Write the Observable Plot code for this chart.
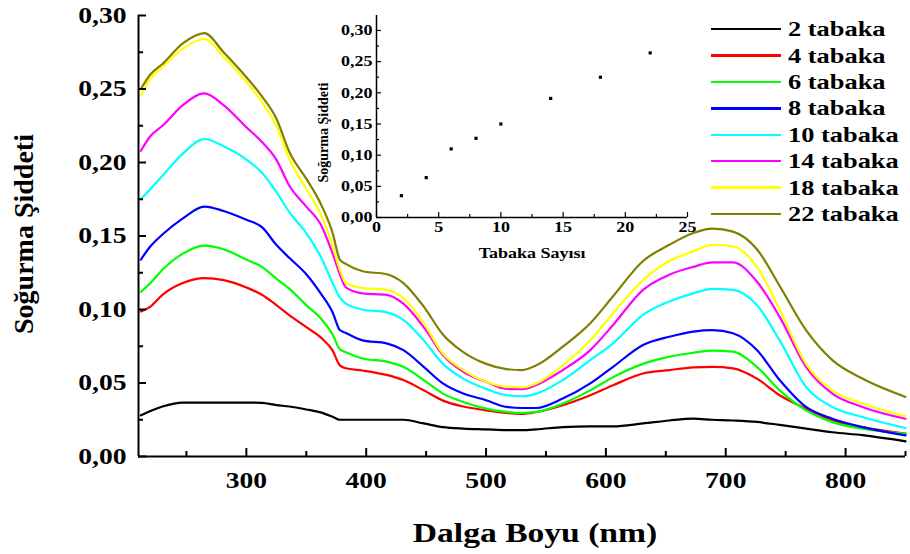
<!DOCTYPE html>
<html><head><meta charset="utf-8">
<script src="https://cdn.jsdelivr.net/npm/d3@7"></script>
<script src="https://cdn.jsdelivr.net/npm/@observablehq/plot@0.6"></script>
<style>
html,body{margin:0;padding:0;background:#fff;}
#wrap{position:relative;width:910px;height:554px;font-family:"Liberation Serif","Times New Roman",serif;font-weight:bold;color:#000;overflow:hidden;}
#wrap svg{position:absolute;}
#legend{position:absolute;left:711px;top:16px;}
.row{height:26.4px;display:flex;align-items:center;}
.sw{width:70px;height:2.5px;margin-right:7px;flex:none;}
.lab{font-size:22px;line-height:22px;transform:scaleX(1.2);transform-origin:left center;white-space:nowrap;}
</style></head><body><div id="wrap"><div id="legend"></div></div>
<script>
// ---- data ----
const wavelengths = [212,220,230,247,265,281,300,313,325,336,350,362,372,378,383,397,417,431,448,464,481,500,517,530,542,564,587,606,631,653,673,689,706,726,745,767,789,814,850];
const s2  = [0.028,0.031,0.034,0.0367,0.0367,0.0367,0.0367,0.0365,0.035,0.034,0.032,0.030,0.027,0.025,0.025,0.025,0.025,0.025,0.0225,0.020,0.019,0.0185,0.018,0.018,0.0185,0.020,0.0205,0.0205,0.0225,0.0245,0.0257,0.025,0.0245,0.0235,0.0215,0.019,0.0165,0.0145,0.0103];
const s4  = [0.0986,0.102,0.110,0.118,0.1214,0.120,0.115,0.110,0.103,0.096,0.088,0.081,0.072,0.062,0.060,0.0585,0.0555,0.052,0.045,0.038,0.034,0.0314,0.0296,0.029,0.0303,0.0349,0.0417,0.0485,0.0565,0.0588,0.0606,0.061,0.060,0.053,0.0417,0.0326,0.0246,0.020,0.0155];
const s6  = [0.112,0.118,0.127,0.138,0.1435,0.141,0.134,0.129,0.121,0.114,0.103,0.094,0.083,0.073,0.071,0.0667,0.0645,0.061,0.052,0.0428,0.0371,0.0326,0.0303,0.0296,0.0303,0.036,0.045,0.054,0.063,0.0679,0.0706,0.072,0.0713,0.061,0.045,0.0314,0.0234,0.0189,0.0155];
const s8  = [0.134,0.143,0.151,0.162,0.170,0.167,0.161,0.156,0.144,0.135,0.124,0.111,0.098,0.086,0.084,0.079,0.077,0.0724,0.061,0.0497,0.0428,0.0383,0.0337,0.033,0.033,0.0394,0.0497,0.061,0.0759,0.0815,0.085,0.086,0.0838,0.0724,0.052,0.0337,0.0257,0.020,0.0144];
const s10 = [0.175,0.182,0.191,0.206,0.216,0.211,0.202,0.193,0.180,0.166,0.152,0.136,0.118,0.108,0.104,0.100,0.098,0.093,0.079,0.063,0.053,0.046,0.0417,0.041,0.0428,0.052,0.0656,0.077,0.0964,0.1055,0.111,0.114,0.1134,0.103,0.079,0.0474,0.0337,0.0269,0.0194];
const s14 = [0.208,0.218,0.225,0.239,0.247,0.239,0.224,0.214,0.202,0.184,0.170,0.158,0.138,0.124,0.115,0.111,0.110,0.104,0.088,0.069,0.0576,0.0508,0.046,0.0458,0.0486,0.0588,0.0724,0.0895,0.1134,0.1237,0.129,0.132,0.132,0.119,0.095,0.061,0.0428,0.0337,0.0257];
const s18 = [0.2455,0.257,0.265,0.2775,0.284,0.272,0.255,0.241,0.225,0.202,0.182,0.165,0.143,0.127,0.118,0.1146,0.1134,0.1077,0.0907,0.070,0.0588,0.0508,0.0474,0.047,0.0497,0.062,0.079,0.0975,0.120,0.133,0.1396,0.144,0.143,0.129,0.0998,0.063,0.045,0.036,0.0273];
const s22 = [0.250,0.260,0.267,0.281,0.288,0.275,0.258,0.245,0.230,0.207,0.189,0.172,0.152,0.134,0.131,0.126,0.124,0.118,0.102,0.083,0.071,0.063,0.0595,0.0588,0.062,0.0747,0.0907,0.109,0.133,0.144,0.152,0.155,0.153,0.141,0.116,0.086,0.0656,0.053,0.0405];
const seriesNames  = ["2 tabaka","4 tabaka","6 tabaka","8 tabaka","10 tabaka","14 tabaka","18 tabaka","22 tabaka"];
const seriesColors = ["#000000","#ff0000","#00ff00","#0000ff","#00ffff","#ff00ff","#ffff00","#808000"];
const seriesValues = [s2,s4,s6,s8,s10,s14,s18,s22];

const layerCounts = [2,4,6,8,10,14,18,22];
const layerAbsorbance = [0.035,0.064,0.110,0.127,0.150,0.191,0.225,0.264];

const xTicksMajor = [300,400,500,600,700,800];
const xTicksMinor = [250,350,450,550,650,750,850];
const yTicksMajor = [0,0.05,0.10,0.15,0.20,0.25,0.30];
const yTicksMinor = [0.025,0.075,0.125,0.175,0.225,0.275];
const insetXTicks = [0,5,10,15,20,25];
const insetXMinor = [2.5,7.5,12.5,17.5,22.5];
const insetYTicks = [0,0.05,0.10,0.15,0.20,0.25,0.30];
const insetYMinor = [0.025,0.075,0.125,0.175,0.225,0.275];

const data = seriesNames.flatMap((name, i) => wavelengths.map((wl, j) => ({name, wl, v: seriesValues[i][j]})));
const insetData = layerCounts.map((n, i) => ({n, v: layerAbsorbance[i]}));
const fmt = d => d.toFixed(2).replace(".", ",");

const FONT = '"Liberation Serif","Times New Roman",serif';

// the reference's horizontal text is slightly stretched; scale x only
function stretch(svg, k) {
  svg.querySelectorAll("text").forEach(t => {
    const tr = t.getAttribute("transform") || "";
    if (tr.includes("rotate")) return;
    const xa = t.getAttribute("x");
    let extra = "";
    if (xa !== null && isFinite(+xa)) { extra = ` translate(${+xa},0)`; t.removeAttribute("x"); }
    t.setAttribute("transform", `${tr}${extra} scale(${k},1)`);
  });
}

// ---- main chart ----
const W = 910, H = 554, mL = 138, mR = 5, mT = 15, mB = 98;
const pW = W - mL - mR, pH = H - mT - mB;
const main = Plot.plot({
  width: W, height: H, marginLeft: mL, marginRight: mR, marginTop: mT, marginBottom: mB,
  style: {fontFamily: FONT, fontWeight: "bold", fontSize: "23px", background: "white", color: "black", overflow: "visible"},
  x: {domain: [210, 850], ticks: xTicksMajor, tickSize: 0, tickPadding: 15, tickFormat: d => String(d), label: null},
  y: {domain: [0, 0.30], ticks: yTicksMajor, tickSize: 0, tickPadding: 12, tickFormat: fmt, label: null},
  color: {domain: seriesNames, range: seriesColors},
  marks: [
    Plot.line(data, {x: "wl", y: "v", z: "name", stroke: "name", strokeWidth: 2.2, curve: "monotone-x"}),
    Plot.tickX(xTicksMajor, {x: d => d, insetTop: pH - 8, stroke: "black", strokeWidth: 2}),
    Plot.tickX(xTicksMinor, {x: d => d, insetTop: pH - 5, stroke: "black", strokeWidth: 2}),
    Plot.tickY(yTicksMajor, {y: d => d, insetRight: pW - 8, stroke: "black", strokeWidth: 2}),
    Plot.tickY(yTicksMinor, {y: d => d, insetRight: pW - 5, stroke: "black", strokeWidth: 2}),
    Plot.ruleY([0], {stroke: "black", strokeWidth: 2}),
    Plot.ruleX([210], {stroke: "black", strokeWidth: 2}),
    Plot.text(["Dalga Boyu (nm)"], {frameAnchor: "bottom", textAnchor: "middle", lineAnchor: "middle", dx: 13, dy: 77, fontSize: 28, fontWeight: "bold", fill: "black"}),
    Plot.text(["Soğurma Şiddeti"], {frameAnchor: "left", textAnchor: "middle", lineAnchor: "middle", dx: -114, dy: -2, rotate: -90, fontSize: 28, fontWeight: "bold", fill: "black"})
  ]
});
main.style.left = "0px"; main.style.top = "0px";
stretch(main, 1.2);

// ---- inset ----
const iW = 400, iH = 267, iL = 76, iR = 13, iT = 15, iB = 50;
const ipW = iW - iL - iR, ipH = iH - iT - iB;
const inset = Plot.plot({
  width: iW, height: iH, marginLeft: iL, marginRight: iR, marginTop: iT, marginBottom: iB,
  style: {fontFamily: FONT, fontWeight: "bold", fontSize: "15px", background: "transparent", color: "black", overflow: "visible"},
  x: {domain: [0, 25], ticks: insetXTicks, tickSize: 0, tickPadding: 4, tickFormat: d => String(d), label: null},
  y: {domain: [0, 0.324], ticks: insetYTicks, tickSize: 0, tickPadding: 4, tickFormat: fmt, label: null},
  marks: [
    Plot.tickX(insetXTicks, {x: d => d, insetTop: ipH - 5, stroke: "black", strokeWidth: 1.2}),
    Plot.tickX(insetXMinor, {x: d => d, insetTop: ipH - 3, stroke: "black", strokeWidth: 1.2}),
    Plot.tickY(insetYTicks, {y: d => d, insetRight: ipW - 5, stroke: "black", strokeWidth: 1.2}),
    Plot.tickY(insetYMinor, {y: d => d, insetRight: ipW - 3, stroke: "black", strokeWidth: 1.2}),
    Plot.ruleY([0], {stroke: "black", strokeWidth: 1.5}),
    Plot.ruleX([0], {stroke: "black", strokeWidth: 1.5}),
    Plot.dot(insetData, {x: "n", y: "v", symbol: "square", r: 1.8, fill: "black", stroke: "none"}),
    Plot.text(["Tabaka Sayısı"], {frameAnchor: "bottom", textAnchor: "middle", lineAnchor: "middle", dy: 36, fontSize: 15, fontWeight: "bold", fill: "black"}),
    Plot.text(["Soğurma Şiddeti"], {frameAnchor: "left", textAnchor: "middle", lineAnchor: "middle", dx: -53, dy: 16, rotate: -90, fontSize: 14, fontWeight: "bold", fill: "black"})
  ]
});
inset.style.left = "300px"; inset.style.top = "0px";
stretch(inset, 1.2);

const wrap = document.getElementById("wrap");
wrap.insertBefore(main, wrap.firstChild);
wrap.insertBefore(inset, document.getElementById("legend"));

// ---- legend ----
const legend = document.getElementById("legend");
seriesNames.forEach((name, i) => {
  const row = document.createElement("div"); row.className = "row";
  const sw = document.createElement("div"); sw.className = "sw"; sw.style.background = seriesColors[i];
  const lab = document.createElement("span"); lab.className = "lab"; lab.textContent = name;
  row.appendChild(sw); row.appendChild(lab); legend.appendChild(row);
});
</script>
</body></html>
